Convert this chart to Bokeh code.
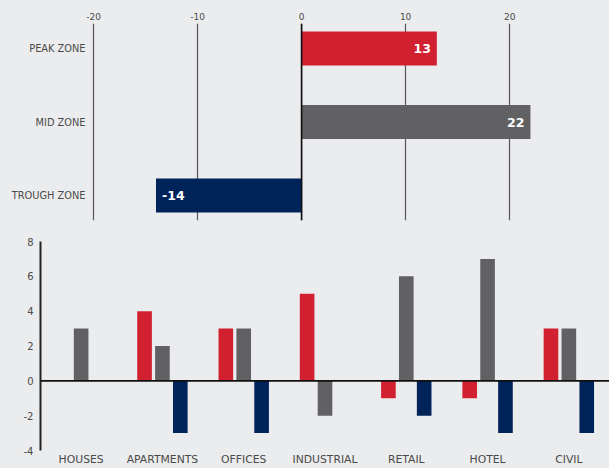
from bokeh.plotting import figure
from bokeh.layouts import column, row
from bokeh.models import Range1d, FixedTicker, Span, ColumnDataSource, FactorRange
from bokeh.transform import dodge
from bokeh.core.properties import value
from bokeh.embed import file_html
from bokeh.resources import INLINE

# ---------------- data ----------------
zones = ["PEAK ZONE", "MID ZONE", "TROUGH ZONE"]
zone_values = [13, 22, -14]

sectors = ["HOUSES", "APARTMENTS", "OFFICES", "INDUSTRIAL", "RETAIL", "HOTEL", "CIVIL"]
series_red = [0, 4, 3, 5, -1, -1, 3]
series_gray = [3, 2, 3, -2, 6, 7, 3]
series_navy = [0, -3, -3, 0, -2, -3, -3]

x_ticks_top = [-20, -10, 0, 10, 20]
y_ticks_bottom = [-4, -2, 0, 2, 4, 6, 8]

# ---------------- styles ----------------
RED = "#D1202F"
GRAY = "#616163"
NAVY = "#00235A"
BG = "#EBECEE"
TXT = "#4a4a4a"
FONT = "DejaVu Sans"
zone_colors = [RED, GRAY, NAVY]


def clean_axis(ax):
    ax.major_tick_line_color = None
    ax.minor_tick_line_color = None
    ax.major_tick_out = 0
    ax.major_tick_in = 0
    ax.minor_tick_out = 0
    ax.minor_tick_in = 0
    ax.major_label_text_font = FONT
    ax.major_label_text_color = TXT


# ---------------- top chart ----------------
n = len(zones)
ypos = [n - 1 - i for i in range(n)]
top_src = ColumnDataSource(dict(
    y=ypos,
    v=zone_values,
    color=zone_colors,
    label=[str(v) for v in zone_values],
    xoff=[-6 if v >= 0 else 6 for v in zone_values],
    align=["right" if v >= 0 else "left" for v in zone_values],
))

p1 = figure(width=609, height=230, output_backend="svg", toolbar_location=None,
            x_axis_location="above",
            x_range=Range1d(-20.2, 29.6), y_range=Range1d(-0.34, n - 1 + 0.34),
            min_border_top=23, min_border_bottom=10, min_border_left=91, min_border_right=0)
p1.background_fill_color = BG
p1.border_fill_color = BG
p1.outline_line_color = None

p1.hbar(y="y", right="v", left=0, height=0.46, color="color", line_color=None, source=top_src)
p1.text(x="v", y="y", text="label", x_offset="xoff", text_align="align",
        text_baseline="middle", text_color="white", text_font_size="12.5px",
        text_font_style="bold", text_font=value(FONT), source=top_src)

p1.add_layout(Span(location=0, dimension="height", line_color="#111111", line_width=1.6))

p1.xaxis.ticker = FixedTicker(ticks=x_ticks_top)
p1.xaxis.major_label_overrides = {t: str(t) for t in x_ticks_top}
p1.xaxis.axis_line_color = None
clean_axis(p1.xaxis[0])
p1.xaxis.major_label_standoff = 4
p1.xaxis.major_label_text_font_size = "9px"

p1.yaxis.ticker = FixedTicker(ticks=ypos)
p1.yaxis.major_label_overrides = {yy: z for yy, z in zip(ypos, zones)}
p1.yaxis.axis_line_color = None
clean_axis(p1.yaxis[0])
p1.yaxis.major_label_standoff = 6
p1.yaxis.major_label_text_font_size = "9.8px"

p1.xgrid.ticker = FixedTicker(ticks=x_ticks_top)
p1.xgrid.grid_line_color = "#555555"
p1.xgrid.grid_line_width = 1.2
p1.ygrid.grid_line_color = None

# ---------------- bottom chart ----------------
bot_src = ColumnDataSource(dict(x=sectors, red=series_red, gray=series_gray, navy=series_navy))

p2 = figure(width=609, height=238, output_backend="svg", toolbar_location=None,
            x_range=FactorRange(factors=sectors, range_padding=0), y_range=Range1d(-4, 8),
            min_border_top=11, min_border_bottom=15, min_border_left=40, min_border_right=0)
p2.background_fill_color = BG
p2.border_fill_color = BG
p2.outline_line_color = None

bw = 0.18
p2.vbar(x=dodge("x", -0.22, range=p2.x_range), top="red", bottom=0, width=bw,
        color=RED, line_color=None, source=bot_src)
p2.vbar(x=dodge("x", 0.0, range=p2.x_range), top="gray", bottom=0, width=bw,
        color=GRAY, line_color=None, source=bot_src)
p2.vbar(x=dodge("x", 0.22, range=p2.x_range), top="navy", bottom=0, width=bw,
        color=NAVY, line_color=None, source=bot_src)

p2.add_layout(Span(location=0, dimension="width", line_color="#111111", line_width=1.6))

p2.xaxis.axis_line_color = None
clean_axis(p2.xaxis[0])
p2.xaxis.major_label_standoff = 2
p2.xaxis.major_label_text_font_size = "10.8px"

p2.yaxis.ticker = FixedTicker(ticks=y_ticks_bottom)
p2.yaxis.major_label_overrides = {t: str(t) for t in y_ticks_bottom}
p2.yaxis.axis_line_color = "#222222"
p2.yaxis.axis_line_width = 2
clean_axis(p2.yaxis[0])
p2.yaxis.major_label_standoff = 7
p2.yaxis.major_label_text_font_size = "10px"

p2.xgrid.grid_line_color = None
p2.ygrid.grid_line_color = None

bg_style = {"background-color": BG}
p = column(row(p1, styles=bg_style), row(p2, styles=bg_style), spacing=0, styles=bg_style)
open("out.html", "w").write(file_html(p, INLINE))
